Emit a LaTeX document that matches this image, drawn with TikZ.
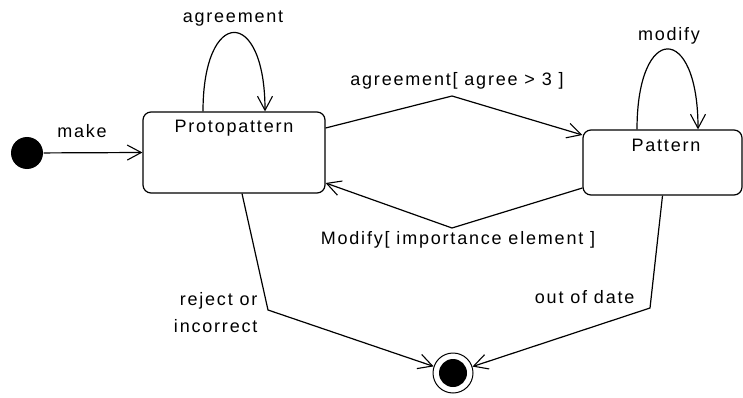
\documentclass[tikz,border=0pt]{standalone}
\usepackage{fontspec}
\setmainfont{Liberation Sans}[LetterSpace=10]
\usetikzlibrary{arrows.meta,calc}
\begin{document}
\begin{tikzpicture}[x=1pt,y=-1pt,
  line width=1.2pt,
  every node/.style={font=\fontsize{18}{22}\selectfont, inner sep=0pt},
  statebox/.style={draw, rounded corners=8pt, inner sep=0pt},
  trans/.style={draw, -{Straight Barb[length=14pt,width=15pt,line width=1.1pt]}},
  lbl/.style={anchor=base}
]
\useasboundingbox (0,0) rectangle (743,398);

% states
\node[statebox, minimum width=182pt, minimum height=81pt] (proto) at (234,152.5) {};
\node[lbl] (protoname) at (234,133) {Protopattern};
\node[statebox, minimum width=159pt, minimum height=65pt] (pattern) at (662.5,162.5) {};
\node[lbl] (patternname) at (666,152) {Pattern};

% initial and final pseudostates
\node[circle, fill=black, minimum size=32pt] (init) at (27,153) {};
\node[circle, draw, line width=1pt, minimum size=40pt] (final) at (453,373) {};
\node[circle, fill=black, minimum size=28pt] (finalin) at (453,373) {};

% bend points
\coordinate (up) at (452,96);
\coordinate (down) at (452,228);
\coordinate (rj) at (268,310);
\coordinate (od) at (650,308);

% transitions
\draw[trans] (init) -- (proto.west);
\node[lbl] (make) at (82,138) {make};

\draw[trans] ([xshift=-31pt]proto.north) .. controls +(0,-105) and +(0,-105) .. ([xshift=31pt]proto.north);
\node[lbl] (agr) at (233,23) {agreement};

\draw[trans] ([xshift=-25.5pt]pattern.north) .. controls +(0,-107) and +(0,-107) .. ([xshift=35.5pt]pattern.north);
\node[lbl] (mod) at (669,41) {modify};

\draw[trans] ([yshift=24.5pt]proto.east) -- (up) -- ([yshift=27.5pt]pattern.west);
\node[lbl] (agrg) at (457,86) {agreement[ agree > 3 ]};

\draw[trans] ([yshift=-25.5pt]pattern.west) -- (down) -- ([yshift=-30.5pt]proto.east);
\node[lbl] (modg) at (458,244) {Modify[ importance element ]};

\draw[trans] ([xshift=8pt]proto.south) -- (rj) -- (final);
\node[lbl, anchor=base east, align=right] (rej) at (258,305) {reject or};
\node[lbl, anchor=base east] (inc) at (258,332) {incorrect};

\draw[trans] (pattern.south) -- (od) -- (final);
\node[lbl, anchor=base east] (ood) at (635,303) {out of date};
\end{tikzpicture}
\end{document}
